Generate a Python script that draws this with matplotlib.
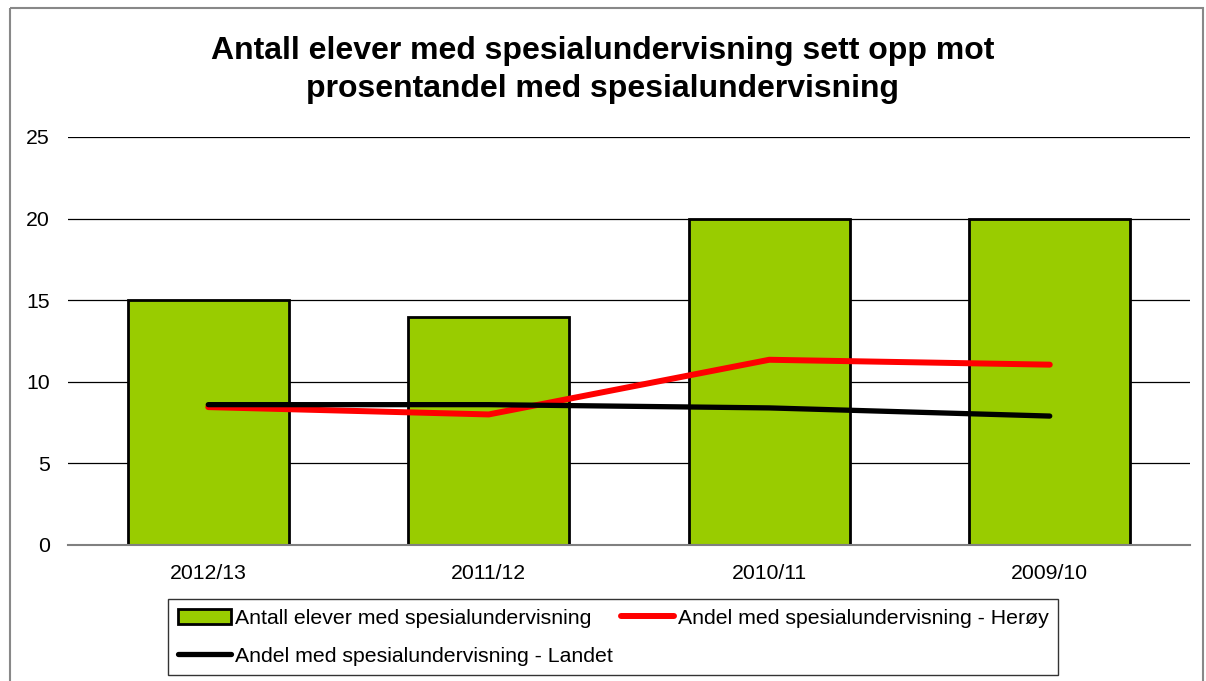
import matplotlib
matplotlib.use("Agg")
import matplotlib.pyplot as plt
from matplotlib.patches import Rectangle
import numpy as np

categories = ["2012/13", "2011/12", "2010/11", "2009/10"]
antall = [15, 14, 20, 20]
andel_heroy = [8.45, 8.0, 11.35, 11.05]
andel_landet = [8.6, 8.6, 8.4, 7.9]
yticks = [0, 5, 10, 15, 20, 25]

plt.rcParams['font.family'] = ['Liberation Sans', 'DejaVu Sans']

W, H = 1206, 681
fig = plt.figure(figsize=(W/100, H/100), dpi=100)

# outer chart border
fig.patches.append(Rectangle((10/W, 1 - 8/H), (1203-10)/W, -(700-8)/H,
                             transform=fig.transFigure, fill=False,
                             edgecolor='#888888', linewidth=1.5))

ax = fig.add_axes([68/W, 1-545/H, (1190-68)/W, (545-137)/H])
x = np.arange(len(categories))
bars = ax.bar(x, antall, width=0.575, color='#99CC00', edgecolor='black',
              linewidth=2, zorder=2, label='Antall elever med spesialundervisning')
l_landet, = ax.plot(x, andel_landet, color='black', linewidth=3.8,
                    solid_capstyle='round', zorder=4,
                    label='Andel med spesialundervisning - Landet')
l_heroy, = ax.plot(x, andel_heroy, color='#FF0000', linewidth=4.3,
                   solid_capstyle='round', zorder=3,
                   label='Andel med spesialundervisning - Herøy')

fs = 15.3
ax.set_xlim(-0.5, len(categories) - 0.5)
ax.set_ylim(0, 25)
ax.set_yticks(yticks)
ax.set_yticklabels([str(v) for v in yticks], fontsize=fs)
ax.set_xticks(x)
ax.set_xticklabels(categories, fontsize=fs)
ax.tick_params(axis='both', length=0)
ax.tick_params(axis='y', pad=13)
ax.tick_params(axis='x', pad=14)
ax.yaxis.grid(True, color='black', linewidth=0.9, zorder=0)
ax.set_axisbelow(True)
for s in ['left', 'right', 'top']:
    ax.spines[s].set_visible(False)
ax.spines['bottom'].set_color('#808080')
ax.spines['bottom'].set_linewidth(1.5)

fig.text(0.5, 1 - 70/H, "Antall elever med spesialundervisning sett opp mot\nprosentandel med spesialundervisning",
         ha='center', va='center', fontsize=23, fontweight='bold', linespacing=1.33)

leg = fig.legend(handles=[bars, l_landet, l_heroy], ncol=2,
                 loc='upper left', bbox_to_anchor=(168/W, 1 - 599/H),
                 fontsize=fs, frameon=True, fancybox=False,
                 edgecolor='black', handlelength=2.5, handletextpad=0.2,
                 columnspacing=0.37, borderpad=0.45, labelspacing=0.9,
                 borderaxespad=0)
leg.get_frame().set_linewidth(1.0)

fig.savefig("out.png", dpi=100)
